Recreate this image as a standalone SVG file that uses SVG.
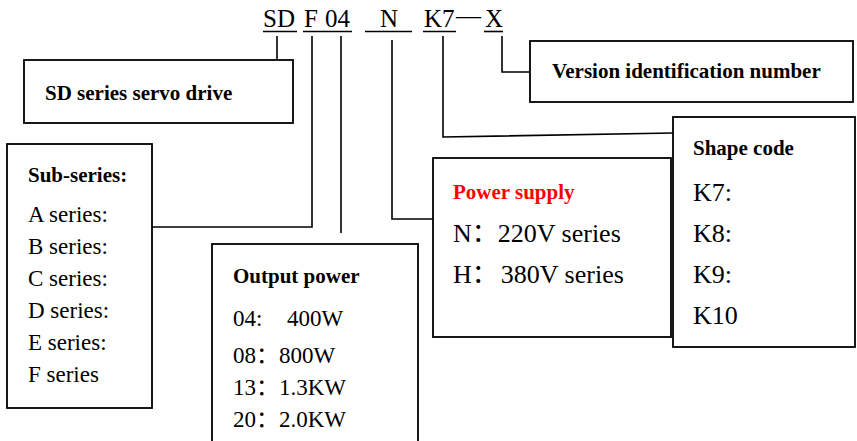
<svg xmlns="http://www.w3.org/2000/svg" width="857" height="441" viewBox="0 0 857 441">
<style>
text{font-family:"Liberation Serif","Noto Sans CJK SC",serif;fill:#000}
.b{font-weight:bold;font-size:21px}
.r{font-size:23px}
.r26{font-size:26px}
.code{font-size:25px}
.red{fill:#ff0000}
.box{fill:#fff;stroke:#000;stroke-width:1.8}
.ln{fill:none;stroke:#000;stroke-width:1.6}
</style>
<rect width="857" height="441" fill="#fff"/>
<g id="code">
<text class="code" x="263" y="27">SD</text>
<text class="code" x="304" y="27">F</text>
<text class="code" x="325" y="27">04</text>
<text class="code" x="380" y="27">N</text>
<text class="code" x="424" y="27">K7</text>
<text class="code" x="456" y="24">—</text>
<text class="code" x="485" y="27">X</text>
<g class="ln">
<line x1="263" y1="31.5" x2="297" y2="31.5"/>
<line x1="303" y1="31.5" x2="352" y2="31.5"/>
<line x1="365" y1="31.5" x2="412" y2="31.5"/>
<line x1="423" y1="31.5" x2="456" y2="31.5"/>
<line x1="484" y1="31.5" x2="503" y2="31.5"/>
</g>
</g>
<g id="connectors" class="ln">
<polyline points="277,36 277,60"/>
<polyline points="312,36 312,227 152,227"/>
<polyline points="341,36 341,233"/>
<polyline points="392,40 392,219 439,219"/>
<polyline points="443,36 443,137 673,133"/>
<polyline points="502,36 502,72 530,72"/>
</g>
<g id="sd-box">
<rect class="box" x="24" y="60" width="269" height="63"/>
<text class="b" x="45" y="100">SD series servo drive</text>
</g>
<g id="version-box">
<rect class="box" x="530" y="41" width="323" height="61"/>
<text class="b" x="552" y="78">Version identification number</text>
</g>
<g id="subseries-box">
<rect class="box" x="7" y="144" width="145" height="264"/>
<text class="b" x="28" y="182">Sub-series:</text>
<text class="r" x="28" y="222">A series:</text>
<text class="r" x="28" y="254">B series:</text>
<text class="r" x="28" y="286">C series:</text>
<text class="r" x="28" y="318">D series:</text>
<text class="r" x="28" y="350">E series:</text>
<text class="r" x="28" y="382">F series</text>
</g>
<g id="output-box">
<rect class="box" x="212" y="244" width="206" height="220"/>
<text class="b" x="233" y="283">Output power</text>
<text class="r" x="233" y="326">04:<tspan x="287">400W</tspan></text>
<text class="r" x="233" y="363">08：800W</text>
<text class="r" x="233" y="395">13：1.3KW</text>
<text class="r" x="233" y="427">20：2.0KW</text>
</g>
<g id="power-box">
<rect class="box" x="433" y="158" width="238" height="179"/>
<text class="b red" x="453" y="199">Power supply</text>
<text class="r26" x="453" y="242">N：220V series</text>
<text class="r26" x="453" y="283">H：<tspan dx="3">380V series</tspan></text>
</g>
<g id="shape-box">
<rect class="box" x="673" y="117" width="182" height="230"/>
<text class="b" x="693" y="155">Shape code</text>
<text class="r26" x="693" y="201">K7:</text>
<text class="r26" x="693" y="242">K8:</text>
<text class="r26" x="693" y="283">K9:</text>
<text class="r26" x="693" y="324">K10</text>
</g>
</svg>
